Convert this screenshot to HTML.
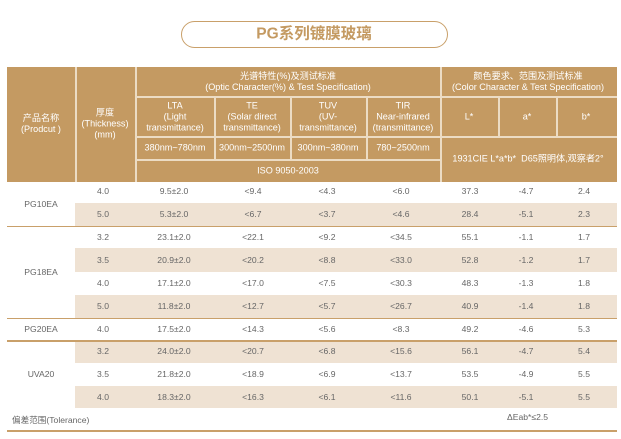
<!DOCTYPE html><html><head><meta charset="utf-8"><style>
*{margin:0;padding:0;box-sizing:border-box}
body{width:621px;height:439px;background:#fff;position:relative;overflow:hidden;font-family:"Liberation Sans","Noto Sans CJK SC",sans-serif}
.a{position:absolute}
.t{position:absolute;transform:translate(-50%,-50%);white-space:nowrap;text-align:center;line-height:1.2}
.h{color:#fff;font-size:9.1px}
.d{color:#666;font-size:8.6px}
.hl{position:absolute;height:1.5px;background:#c9a06a}
.vl{position:absolute;width:1.5px;background:#ecdcc4}
.sh{position:absolute;left:75px;width:542px;background:#efe2d3}
</style></head><body>
<div class="a" style="left:181px;top:21px;width:267px;height:27px;border:1.5px solid #c9a06a;border-radius:14px"></div>
<div class="t" style="left:314px;top:35px;font-size:15.5px;font-weight:bold;color:#c49a62">PG系列镀膜玻璃</div>
<div class="a" style="left:7px;top:67px;width:610px;height:115px;background:#c49a62"></div>
<div class="vl" style="left:75px;top:67px;height:115px"></div>
<div class="vl" style="left:135px;top:67px;height:115px"></div>
<div class="vl" style="left:440px;top:67px;height:115px"></div>
<div class="a" style="left:135px;top:96px;width:482px;height:1.5px;background:#ecdcc4"></div>
<div class="a" style="left:135px;top:136px;width:482px;height:1.5px;background:#ecdcc4"></div>
<div class="a" style="left:135px;top:159px;width:305px;height:1.5px;background:#ecdcc4"></div>
<div class="vl" style="left:214px;top:96px;height:63px"></div>
<div class="vl" style="left:290px;top:96px;height:63px"></div>
<div class="vl" style="left:366px;top:96px;height:63px"></div>
<div class="vl" style="left:498px;top:96px;height:40px"></div>
<div class="vl" style="left:556px;top:96px;height:40px"></div>
<div class="t h" style="left:41px;top:124px">产品名称<br>(Prodcut )</div>
<div class="t h" style="left:105px;top:124px">厚度<br>(Thickness)<br>(mm)</div>
<div class="t h" style="left:288px;top:82px">光谱特性(%)及测试标准<br>(Optic Character(%) &amp; Test Specification)</div>
<div class="t h" style="left:528px;top:82px">颜色要求、范围及测试标准<br>(Color Character &amp; Test Specification)</div>
<div class="t h" style="left:175px;top:117px">LTA<br>(Light<br>transmittance)</div>
<div class="t h" style="left:252px;top:117px">TE<br>(Solar direct<br>transmittance)</div>
<div class="t h" style="left:328px;top:117px">TUV<br>(UV-<br>transmittance)</div>
<div class="t h" style="left:403px;top:117px">TIR<br>Near-infrared<br>(transmittance)</div>
<div class="t h" style="left:469px;top:117px">L*</div>
<div class="t h" style="left:527px;top:117px">a*</div>
<div class="t h" style="left:586px;top:117px">b*</div>
<div class="t h" style="left:175px;top:148px">380nm~780nm</div>
<div class="t h" style="left:252px;top:148px">300nm~2500nm</div>
<div class="t h" style="left:328px;top:148px">300nm~380nm</div>
<div class="t h" style="left:403px;top:148px">780~2500nm</div>
<div class="t h" style="left:288px;top:171px">ISO 9050-2003</div>
<div class="t h" style="left:528px;top:159px">1931CIE L*a*b*&nbsp; D65照明体,观察者2°</div>
<div class="sh" style="top:203px;height:23px"></div>
<div class="sh" style="top:248px;height:24px"></div>
<div class="sh" style="top:295px;height:23px"></div>
<div class="sh" style="top:340px;height:23px"></div>
<div class="sh" style="top:386px;height:22px"></div>
<div class="hl" style="left:7px;width:610px;top:225.5px"></div>
<div class="hl" style="left:7px;width:610px;top:317.5px"></div>
<div class="hl" style="left:7px;width:610px;top:340px"></div>
<div class="hl" style="left:7px;width:610px;top:430px"></div>
<div class="t d" style="left:41px;top:204px">PG10EA</div>
<div class="t d" style="left:41px;top:272px">PG18EA</div>
<div class="t d" style="left:41px;top:329px">PG20EA</div>
<div class="t d" style="left:41px;top:374px">UVA20</div>
<div class="a d" style="left:12px;top:414px">偏差范围(Tolerance)</div>
<div class="a d" style="left:507px;top:412px">ΔEab*≤2.5</div>
<div id="rows"></div>
<script>
var R=[[191,"4.0","9.5±2.0","<9.4","<4.3","<6.0","37.3","-4.7","2.4"],
[214,"5.0","5.3±2.0","<6.7","<3.7","<4.6","28.4","-5.1","2.3"],
[237,"3.2","23.1±2.0","<22.1","<9.2","<34.5","55.1","-1.1","1.7"],
[260,"3.5","20.9±2.0","<20.2","<8.8","<33.0","52.8","-1.2","1.7"],
[283,"4.0","17.1±2.0","<17.0","<7.5","<30.3","48.3","-1.3","1.8"],
[306,"5.0","11.8±2.0","<12.7","<5.7","<26.7","40.9","-1.4","1.8"],
[329,"4.0","17.5±2.0","<14.3","<5.6","<8.3","49.2","-4.6","5.3"],
[351,"3.2","24.0±2.0","<20.7","<6.8","<15.6","56.1","-4.7","5.4"],
[374,"3.5","21.8±2.0","<18.9","<6.9","<13.7","53.5","-4.9","5.5"],
[397,"4.0","18.3±2.0","<16.3","<6.1","<11.6","50.1","-5.1","5.5"]];
var X=[103,174,253,327,401,470,526,584],h="";
R.forEach(function(r){for(var i=0;i<8;i++){h+='<div class="t d" style="left:'+X[i]+'px;top:'+r[0]+'px">'+r[i+1].replace("<","&lt;")+'</div>';}});
document.getElementById("rows").innerHTML=h;
</script>
</body></html>
